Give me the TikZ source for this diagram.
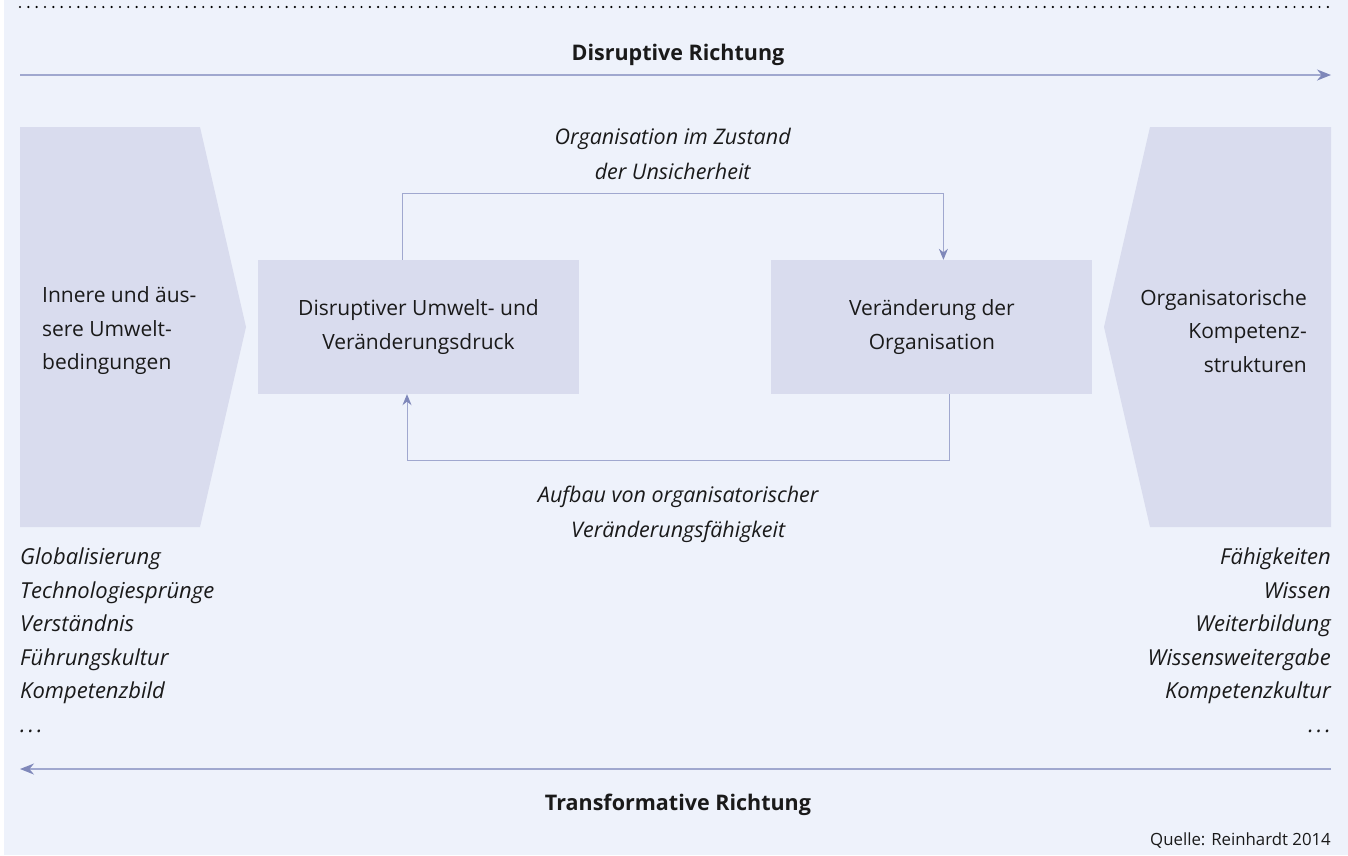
\documentclass[tikz,border=0pt]{standalone}
\usepackage{fontspec}
\setmainfont{Open Sans}
\usetikzlibrary{arrows.meta,positioning}
\definecolor{bgblue}{HTML}{EEF2FB}
\definecolor{boxblue}{HTML}{D9DCEE}
\definecolor{lineblue}{HTML}{A0A8CF}
\definecolor{tipblue}{HTML}{7F88BA}
\definecolor{ink}{HTML}{1A1A1A}
\newcommand{\spdots}{.\kern3pt.\kern3pt.}

\begin{document}
\begin{tikzpicture}[x=1pt,y=-1pt,
                    txt/.style={font=\fontsize{21}{33.5}\selectfont,text=ink,inner sep=0pt},
                    itx/.style={txt,font=\fontsize{22}{33.5}\selectfont\itshape},
                    lbl/.style={txt,font=\fontsize{21.5}{35}\selectfont\itshape,align=center},
                    head/.style={txt,font=\fontsize{21.5}{24}\selectfont\bfseries},
                    box/.style={txt,fill=boxblue,minimum width=321pt,minimum height=134pt,align=center},
                    flow/.style={draw=lineblue,line width=1pt,
                                 -{Stealth[length=11pt,width=9pt,color=tipblue]}},
                    dir/.style={draw=lineblue,line width=1.6pt,
                                -{Stealth[length=14pt,width=11pt,color=tipblue]}},
                    dotline/.style={draw=black,line width=2.4pt,line cap=round,
                                    dash pattern=on 0pt off 8.33pt}]
  \useasboundingbox (0,0) rectangle (1348,855);
  \fill[bgblue] (4,0) rectangle (1348,855);

  % top rule
  \coordinate (dotl) at (20,7);
  \coordinate (dotr) at (1330,7);
  \draw[dotline] (dotl) -- (dotr);

  % disruptive direction
  \node[head] (disr) at (678,55) {Disruptive Richtung};
  \coordinate (dl) at (20,75);
  \coordinate (dr) at (1331,75);
  \draw[dir] (dl) -- (dr);

  % side shapes
  \fill[boxblue] (20,127) -- (200,127) -- (246,327) -- (200,527) -- (20,527) -- cycle;
  \fill[boxblue] (1331,127) -- (1150,127) -- (1104,327) -- (1150,527) -- (1331,527) -- cycle;
  \node[txt,align=left,anchor=west] (innen) at (42,331) {Innere und äus-\\sere Umwelt-\\bedingungen};
  \node[txt,align=right,anchor=east] (kompz) at (1307,331) {Organisatorische\\Kompetenz-\\strukturen};

  % centre boxes
  \node[box] (druck) at (418.5,327) {Disruptiver Umwelt- und\\Veränderungsdruck};
  \node[box,right=192pt of druck] (verae) {Veränderung der\\Organisation};

  \draw[flow] ([xshift=-16.5pt]druck.north) -- ++(0,-66)
     -| node[pos=0.25,above=14pt,lbl] (unsi) {Organisation im Zustand\\der Unsicherheit}
        ([xshift=11.5pt]verae.north);
  \draw[flow] ([xshift=17.5pt]verae.south) -- ++(0,66)
     -| node[pos=0.25,below=25pt,lbl] (aufb) {Aufbau von organisatorischer\\Veränderungsfähigkeit}
        ([xshift=-11.5pt]druck.south);

  % lists
  \node[itx,align=left,anchor=north west] (umwl) at (20,548)
    {Globalisierung\\Technologiesprünge\\Verständnis\\Führungskultur\\Kompetenzbild\\\spdots};
  \node[itx,align=right,anchor=north east] (kompl) at (1331,548)
    {Fähigkeiten\\Wissen\\Weiterbildung\\Wissensweitergabe\\Kompetenzkultur\\\spdots};

  % transformative direction
  \coordinate (tr) at (1331,769);
  \coordinate (tl) at (20,769);
  \draw[dir] (tr) -- (tl);
  \node[head] (trans) at (678,805) {Transformative Richtung};

  \node[txt,font=\fontsize{16.8}{19}\selectfont,anchor=base east] (quel) at (1331,845) {Quelle: Reinhardt 2014};
\end{tikzpicture}
\end{document}
